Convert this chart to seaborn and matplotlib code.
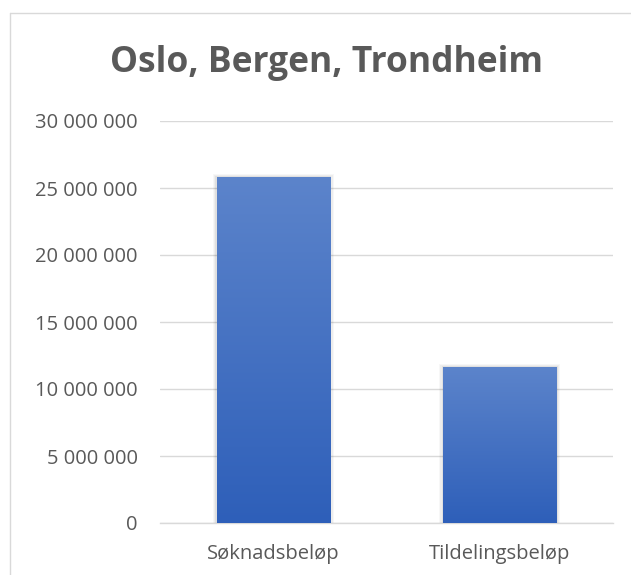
import matplotlib
matplotlib.use('Agg')
import matplotlib.pyplot as plt
import matplotlib.ticker as mticker
from matplotlib.colors import LinearSegmentedColormap
from matplotlib.lines import Line2D
import numpy as np
import pandas as pd
import seaborn as sns

categories = ['Søknadsbeløp', 'Tildelingsbeløp']
amounts = [25850000, 11660000]
yticks = [0, 5000000, 10000000, 15000000, 20000000, 25000000, 30000000]

df = pd.DataFrame({'kategori': categories, 'belop': amounts})

sns.set_style('white')
plt.rcParams['font.family'] = ['Open Sans', 'DejaVu Sans']

W, H = 631, 575
fig = plt.figure(figsize=(W / 100, H / 100), dpi=100)
ax = fig.add_axes([160 / W, (H - 523) / H, (613 - 160) / W, (523 - 121) / H])

sns.barplot(data=df, x='kategori', y='belop', color='#4472C4', width=0.5,
            linewidth=0, edgecolor='none', ax=ax)

ax.set_xlim(-0.5, 1.5)
ax.set_ylim(0, 30000000)
ax.set_yticks(yticks)
ax.yaxis.set_major_formatter(mticker.FuncFormatter(lambda v, p: f'{int(v):,}'.replace(',', ' ')))
ax.grid(axis='y', color='#d9d9d9', linewidth=1)
ax.set_axisbelow(True)
for s in ['top', 'right', 'left']:
    ax.spines[s].set_visible(False)
ax.spines['bottom'].set_color('#d9d9d9')
ax.spines['bottom'].set_linewidth(1)
ax.tick_params(axis='both', length=0, labelsize=14.5, labelcolor='#595959')
ax.tick_params(axis='y', pad=16)
ax.tick_params(axis='x', pad=15)
ax.set_xlabel('')
ax.set_ylabel('')

# gradient fill like the original
cmap = LinearSegmentedColormap.from_list('grad', ['#2e5fb9', '#5c84cb'])
grad = np.linspace(0, 1, 256).reshape(-1, 1)
for patch in ax.patches:
    x0, y0 = patch.get_x(), patch.get_y()
    w, h = patch.get_width(), patch.get_height()
    # soft shadow
    for i, a in enumerate([0.05, 0.04, 0.03]):
        d = 0.006 * (i + 1)
        ax.add_patch(plt.Rectangle((x0 - d, y0), w + 2 * d, h + 60000 * (i + 1),
                                   color='black', alpha=a, lw=0, zorder=1.5))
    im = ax.imshow(grad, extent=[x0, x0 + w, y0, y0 + h], origin='lower',
                   aspect='auto', cmap=cmap, zorder=3)
    im.set_clip_path(patch)
    patch.set_zorder(2)
ax.set_xlim(-0.5, 1.5)
ax.set_ylim(0, 30000000)

fig.text(327 / W, (H - 63) / H, 'Oslo, Bergen, Trondheim', ha='center', va='center',
         fontsize=25.5, fontweight='bold', color='#595959')

# chart frame
fig.add_artist(Line2D([10 / W, 1], [(H - 13) / H, (H - 13) / H], color='#d9d9d9', lw=1))
fig.add_artist(Line2D([10 / W, 10 / W], [0, (H - 13) / H], color='#d9d9d9', lw=1))

fig.savefig('out.png', dpi=100)
